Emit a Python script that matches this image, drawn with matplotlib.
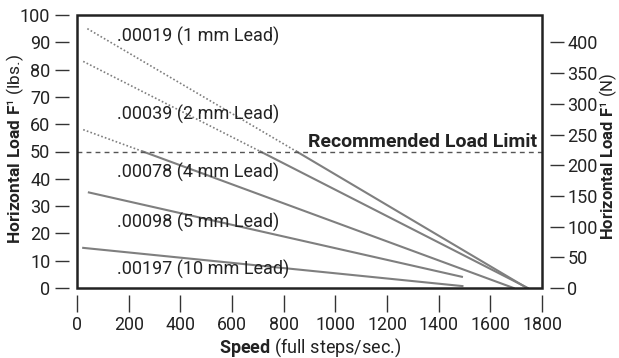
"""
Horizontal load vs speed for several lead screws.
"""

import matplotlib
matplotlib.use('Agg')
import matplotlib.pyplot as plt
from matplotlib.patches import Rectangle

plt.rcParams['font.family'] = ['Roboto', 'DejaVu Sans']
plt.rcParams['mathtext.fontset'] = 'custom'
plt.rcParams['mathtext.rm'] = 'Roboto'
plt.rcParams['mathtext.bf'] = 'Roboto:bold'
plt.rcParams['mathtext.it'] = 'Roboto:italic'

# data: start, break at the limit, end
labels = ['.00019 (1 mm Lead)', '.00039 (2 mm Lead)', '.00078 (4 mm Lead)',
          '.00098 (5 mm Lead)', '.00197 (10 mm Lead)']
speeds = [[40, 850, 1742], [24, 710, 1745], [24, 255, 1690],
          [46, 1490], [24, 1492]]
loads = [[95, 50, 0], [83, 50, 0], [58, 50, 0],
         [35, 4.1], [14.7, 0.7]]
label_speed = [155, 155, 155, 155, 155]
label_load = [92, 63.7, 42.2, 23.9, 6.8]

load_limit = 50
x_ticks = list(range(0, 2000, 200))
y_ticks = list(range(0, 110, 10))
n_ticks = list(range(0, 450, 50))
lbf_to_n = 4.448

line_col = '#7f7f7f'
ink = '#222222'

fig = plt.figure(figsize=(6.19, 3.58), dpi=100)
ax = fig.add_axes([77/619, 70/358, 465/619, 273/358])
ax2 = ax.twinx()

ax.set_xlim(0, 1800)
ax.set_ylim(0, 100)
ax2.set_ylim(0, 100*lbf_to_n)

for s, l in zip(speeds, loads):
    if len(s) == 3:
        ax.plot(s[:2], l[:2], color=line_col, lw=1.2, ls=(0, (1, 1.3)))
        ax.plot(s[1:], l[1:], color=line_col, lw=1.5)
    else:
        ax.plot(s, l, color=line_col, lw=1.5)

for t, xs, ys in zip(labels, label_speed, label_load):
    ax.text(xs, ys, t, fontsize=13, color=ink, ha='left', va='center')

ax.axhline(load_limit, color='#555555', lw=1, ls=(0, (3.5, 3)))
ax.text(1783, 53.6, 'Recommended Load Limit', fontsize=14, fontweight='bold',
        color=ink, ha='right', va='center')

# detached ticks
for a in (ax, ax2):
    for sp in a.spines.values():
        sp.set_visible(False)
ax.spines['left'].set_position(('outward', 5.8))
ax.spines['bottom'].set_position(('outward', 5))
ax2.spines['right'].set_position(('outward', 5.8))

ax.set_xticks(x_ticks)
ax.set_yticks(y_ticks)
ax2.set_yticks(n_ticks)
ax.tick_params(axis='y', direction='out', length=10, width=1, color='#333333',
               pad=3.4, labelsize=13, labelcolor=ink)
ax.tick_params(axis='x', direction='out', length=12.2, width=1, color='#333333',
               pad=3, labelsize=12.8, labelcolor=ink)
ax2.tick_params(axis='y', direction='out', length=10, width=1, color='#333333',
                pad=2.5, labelsize=13, labelcolor=ink)

# the frame
ax.add_patch(Rectangle((0, 0), 1, 1, transform=ax.transAxes, fill=False,
                       edgecolor=ink, lw=1.8, clip_on=False, zorder=5))

fig.text(15/619, 1 - 149/358, r'$\mathbf{Horizontal\ Load\ F}$' + '\u00b9 (lbs.)',
         rotation=90, fontsize=12.5, color=ink, ha='center', va='center')
fig.text(608.5/619, 1 - 156/358, r'$\mathbf{Horizontal\ Load\ F}$' + '\u00b9 (N)',
         rotation=90, fontsize=12, color=ink, ha='center', va='center')
fig.text(310/619, 1 - 353/358, r'$\mathbf{Speed}$ (full steps/sec.)',
         fontsize=13, color=ink, ha='center', va='baseline')

fig.savefig('out.png', dpi=100)
